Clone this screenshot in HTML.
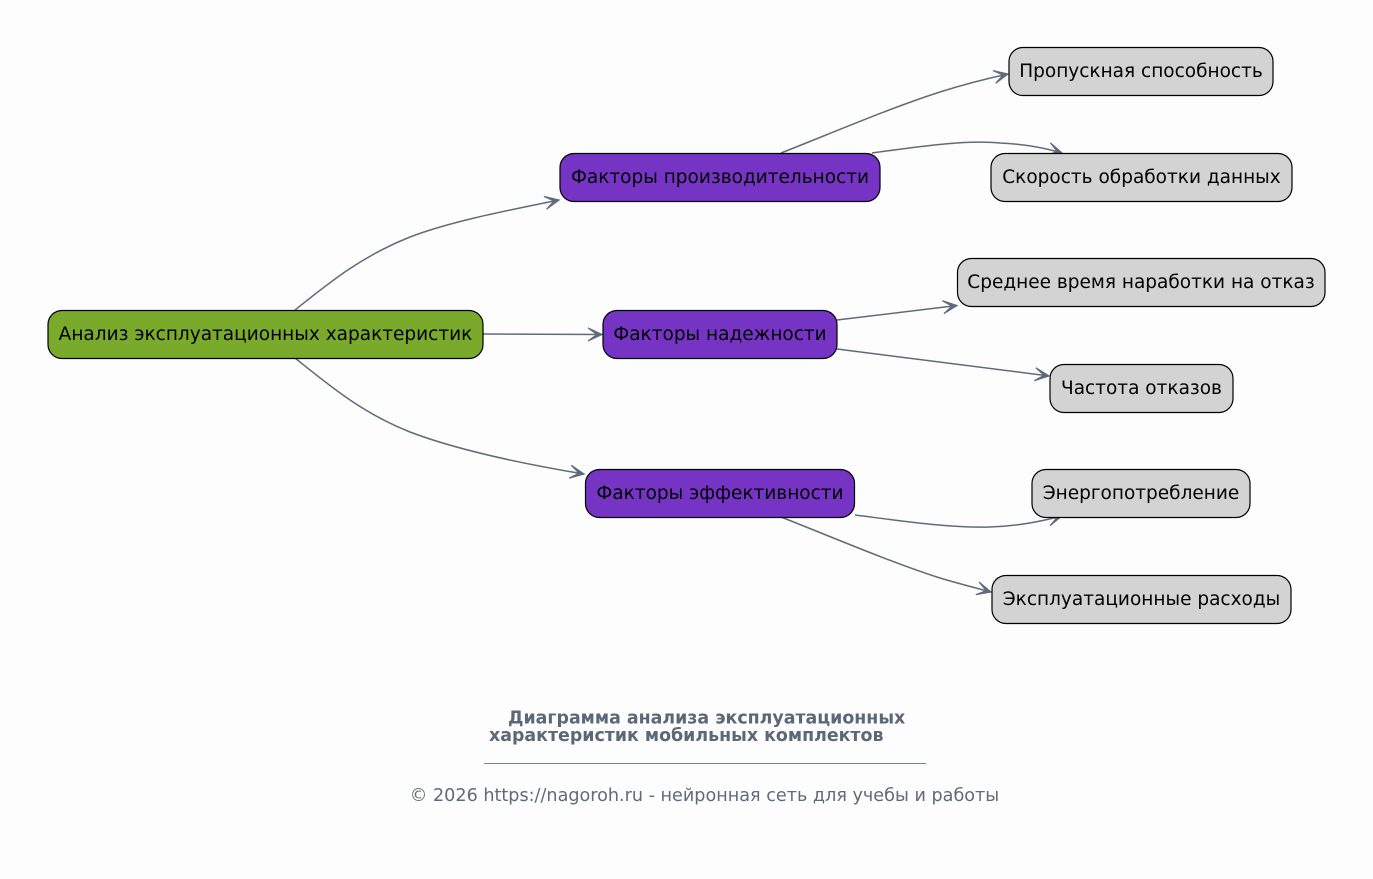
<!DOCTYPE html>
<html>
<head>
<meta charset="utf-8">
<style>
html,body{margin:0;padding:0;background:#fdfdfd;}
svg{display:block;}
text{font-family:"DejaVu Sans","Liberation Sans",sans-serif;}
</style>
</head>
<body>
<svg width="1373" height="879" viewBox="0 0 1373 879" xmlns="http://www.w3.org/2000/svg">
<defs>
<marker id="ah" viewBox="-16 -9 18 18" markerWidth="18" markerHeight="18" refX="0" refY="0" orient="auto" markerUnits="userSpaceOnUse">
<path d="M-14,-6.5 L0,0 L-14,6.5 L-5,0 Z" fill="#5f6b7a" stroke="#5f6b7a" stroke-width="1.2" stroke-linejoin="miter"/>
</marker>
</defs>
<rect width="1373" height="879" fill="#fdfdfd"/>

<g fill="none" stroke="#5f6b7a" stroke-width="1.5">
<path d="M295,310 C330,282 362,256 410,237 C452,221 510,210 559,200" marker-end="url(#ah)"/>
<path d="M483,334 L602,334.5" marker-end="url(#ah)"/>
<path d="M295,358 C330,386 362,413 410,432 C452,448 512,462 584,474" marker-end="url(#ah)"/>
<path d="M781,153 C832,133 890,108 940,92 C962,85 985,79 1008,74" marker-end="url(#ah)"/>
<path d="M872,153 C930,145 968,140 1000,143 C1025,144 1045,148 1062,153" marker-end="url(#ah)"/>
<path d="M837,320 L957,305.5" marker-end="url(#ah)"/>
<path d="M837,349 L1049,376" marker-end="url(#ah)"/>
<path d="M855,515 C910,522 950,528 990,527 C1020,526 1042,521 1062,516" marker-end="url(#ah)"/>
<path d="M781,517 C832,537 890,562 940,578 C960,584 976,588 991,592" marker-end="url(#ah)"/>
</g>

<g stroke="#000" stroke-width="1.2">
<rect x="48" y="310.5" width="435" height="48" rx="14" fill="#79aa2b"/>
<rect x="560" y="153.5" width="320" height="48" rx="14" fill="#7634c5"/>
<rect x="603" y="310.5" width="234" height="48" rx="14" fill="#7634c5"/>
<rect x="585.5" y="469.5" width="269" height="48" rx="14" fill="#7634c5"/>
<rect x="1009" y="47.5" width="264" height="48" rx="14" fill="#d3d3d3"/>
<rect x="991" y="153.5" width="301" height="48" rx="14" fill="#d3d3d3"/>
<rect x="957.5" y="258.5" width="367.5" height="48" rx="14" fill="#d3d3d3"/>
<rect x="1050" y="364.5" width="183" height="48" rx="14" fill="#d3d3d3"/>
<rect x="1032" y="469.5" width="218" height="48" rx="14" fill="#d3d3d3"/>
<rect x="992" y="575.5" width="299" height="48" rx="14" fill="#d3d3d3"/>
</g>

<g font-size="18.5" fill="#000" text-anchor="middle">
<text x="265.5" y="340">Анализ эксплуатационных характеристик</text>
<text x="720" y="183">Факторы производительности</text>
<text x="720" y="340">Факторы надежности</text>
<text x="720" y="499">Факторы эффективности</text>
<text x="1141" y="77">Пропускная способность</text>
<text x="1141.5" y="183">Скорость обработки данных</text>
<text x="1141" y="288">Среднее время наработки на отказ</text>
<text x="1141.5" y="394">Частота отказов</text>
<text x="1141" y="499">Энергопотребление</text>
<text x="1141.5" y="605">Эксплуатационные расходы</text>
</g>

<g fill="#5a6878" font-size="17.4" font-weight="bold">
<text x="508" y="723.5">Диаграмма анализа эксплуатационных</text>
<text x="489" y="741">характеристик мобильных комплектов</text>
</g>
<line x1="484" y1="763.5" x2="926" y2="763.5" stroke="#7a8594" stroke-width="1"/>
<text x="704.5" y="801" text-anchor="middle" font-size="17.6" fill="#5f6b7a">© 2026 https://nagoroh.ru - нейронная сеть для учебы и работы</text>
</svg>
</body>
</html>
